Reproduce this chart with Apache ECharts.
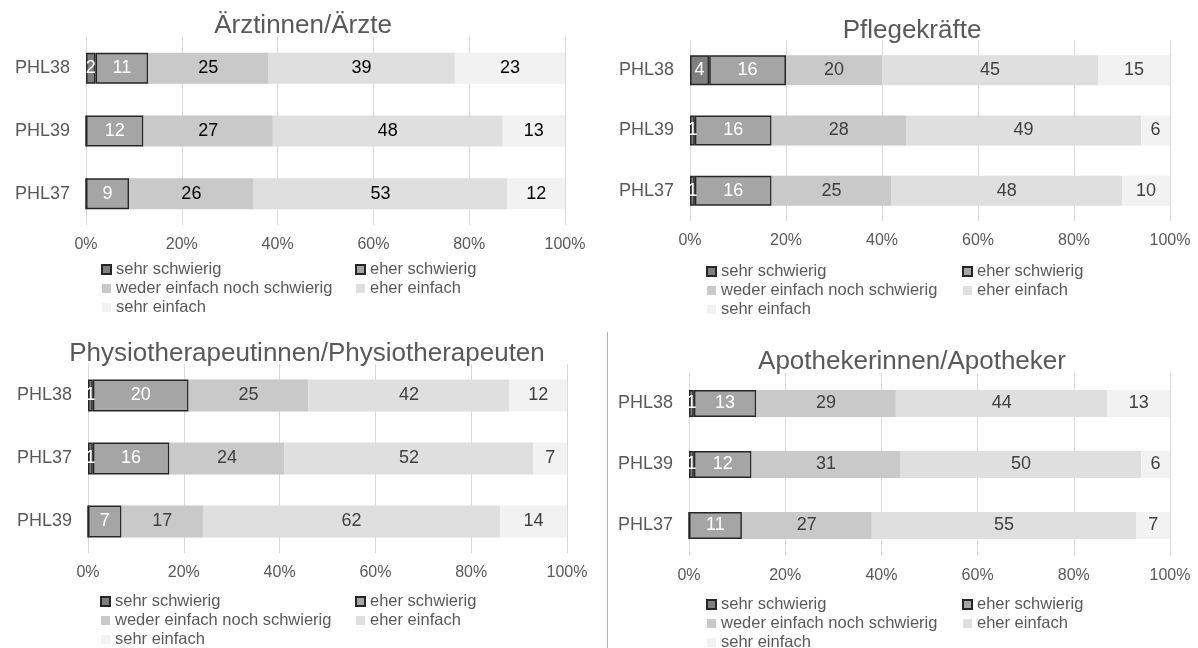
<!DOCTYPE html>
<html>
<head>
<meta charset="utf-8">
<script src="https://cdn.jsdelivr.net/npm/echarts@6/dist/echarts.min.js"></script>
<style>
  html, body { margin: 0; padding: 0; background: #fff; }
  #chart { width: 1198px; height: 648px; }
</style>
</head>
<body>
<div id="chart"></div>
<script>
// Antwortstufen (Reihenfolge der Stapelung)
const levels = ['sehr schwierig', 'eher schwierig', 'weder einfach noch schwierig', 'eher einfach', 'sehr einfach'];
const levelColors = ['#7f7f7f', '#a5a5a5', '#c9c9c9', '#dfdfdf', '#f2f2f2'];
const xTicks = [0, 20, 40, 60, 80, 100];

// Ärztinnen/Ärzte — Anteile in % je Erhebung, Zeilen von oben nach unten
const aerzteRows = ['PHL38', 'PHL39', 'PHL37'];
const aerzteValues = [
  [2, 11, 25, 39, 23],
  [0, 12, 27, 48, 13],
  [0, 9, 26, 53, 12]
];

// Pflegekräfte
const pflegeRows = ['PHL38', 'PHL39', 'PHL37'];
const pflegeValues = [
  [4, 16, 20, 45, 15],
  [1, 16, 28, 49, 6],
  [1, 16, 25, 48, 10]
];

// Physiotherapeutinnen/Physiotherapeuten
const physioRows = ['PHL38', 'PHL37', 'PHL39'];
const physioValues = [
  [1, 20, 25, 42, 12],
  [1, 16, 24, 52, 7],
  [0, 7, 17, 62, 14]
];

// Apothekerinnen/Apotheker
const apoRows = ['PHL38', 'PHL39', 'PHL37'];
const apoValues = [
  [1, 13, 29, 44, 13],
  [1, 12, 31, 50, 6],
  [0, 11, 27, 55, 7]
];

const FONT = '"Liberation Sans", Arial, Helvetica, sans-serif';
const TEXT = '#595959';

// Aufbau der vier Teildiagramme
const panels = [
  { title: 'Ärztinnen/Ärzte', rows: aerzteRows, values: aerzteValues,
    tx: 303, ty: 26, grid: { left: 86, width: 479, top: 37, height: 188 }, barWidth: 31,
    labelColor: '#000000', legendX: [101, 355], legendY: 260 },
  { title: 'Pflegekräfte', rows: pflegeRows, values: pflegeValues,
    tx: 912, ty: 31, grid: { left: 690, width: 480, top: 40, height: 181 }, barWidth: 30,
    labelColor: '#404040', legendX: [706, 962], legendY: 262 },
  { title: 'Physiotherapeutinnen/Physiotherapeuten', rows: physioRows, values: physioValues,
    tx: 307, ty: 354, grid: { left: 88, width: 479, top: 364, height: 189 }, barWidth: 32,
    labelColor: '#404040', legendX: [100, 355], legendY: 592 },
  { title: 'Apothekerinnen/Apotheker', rows: apoRows, values: apoValues,
    tx: 912, ty: 362, grid: { left: 689, width: 481, top: 373, height: 183 }, barWidth: 27,
    labelColor: '#404040', legendX: [706, 962], legendY: 595 }
];

const titles = [], grids = [], xAxes = [], yAxes = [], series = [], legends = [];

panels.forEach((p, i) => {
  titles.push({
    text: p.title, left: p.tx, top: p.ty, padding: 0,
    textAlign: 'center', textVerticalAlign: 'middle',
    textStyle: { fontFamily: FONT, fontSize: 26, fontWeight: 'normal', color: TEXT }
  });
  grids.push(Object.assign({ containLabel: false }, p.grid));
  xAxes.push({
    type: 'value', gridIndex: i, min: xTicks[0], max: xTicks[xTicks.length - 1],
    interval: xTicks[1] - xTicks[0],
    axisLine: { show: false }, axisTick: { show: false },
    splitLine: { show: true, lineStyle: { color: '#d9d9d9', width: 1 } },
    axisLabel: { formatter: '{value}%', color: TEXT, fontFamily: FONT, fontSize: 16, margin: 12 }
  });
  yAxes.push({
    type: 'category', gridIndex: i, data: p.rows, inverse: true,
    axisLine: { show: false }, axisTick: { show: false },
    axisLabel: { color: TEXT, fontFamily: FONT, fontSize: 18, margin: 16 }
  });
  levels.forEach((lv, k) => {
    const bordered = k < 2;
    series.push({
      name: lv, type: 'bar', stack: 'panel' + i,
      xAxisIndex: i, yAxisIndex: i, barWidth: p.barWidth,
      data: p.values.map(r => r[k]),
      itemStyle: {
        color: levelColors[k],
        borderColor: bordered ? '#262626' : levelColors[k],
        borderWidth: bordered ? 1.5 : 0
      },
      label: {
        show: true, position: 'inside',
        formatter: d => (d.value > 0 ? String(d.value) : ''),
        color: bordered ? '#ffffff' : p.labelColor,
        fontFamily: FONT, fontSize: 18
      },
      emphasis: { disabled: true },
      animation: false
    });
  });
  const colA = [levels[0], levels[2], levels[4]];
  const colB = [levels[1], levels[3]];
  [colA, colB].forEach((col, c) => {
    legends.push({
      data: col, orient: 'vertical', left: p.legendX[c], top: p.legendY,
      width: 250, height: 80,
      padding: 0, itemGap: 0, itemWidth: 9, itemHeight: 9, icon: 'rect',
      selectedMode: false,
      textStyle: { color: TEXT, fontFamily: FONT, fontSize: 16.5, lineHeight: 19 }
    });
  });
});

const chart = echarts.init(document.getElementById('chart'), null, { renderer: 'canvas' });
chart.setOption({
  backgroundColor: '#ffffff',
  animation: false,
  title: titles,
  grid: grids,
  xAxis: xAxes,
  yAxis: yAxes,
  legend: legends,
  series: series,
  graphic: [{
    type: 'line', silent: true,
    shape: { x1: 607.5, y1: 332, x2: 607.5, y2: 648 },
    style: { stroke: '#b0b0b0', lineWidth: 1 }
  }]
});
</script>
</body>
</html>
